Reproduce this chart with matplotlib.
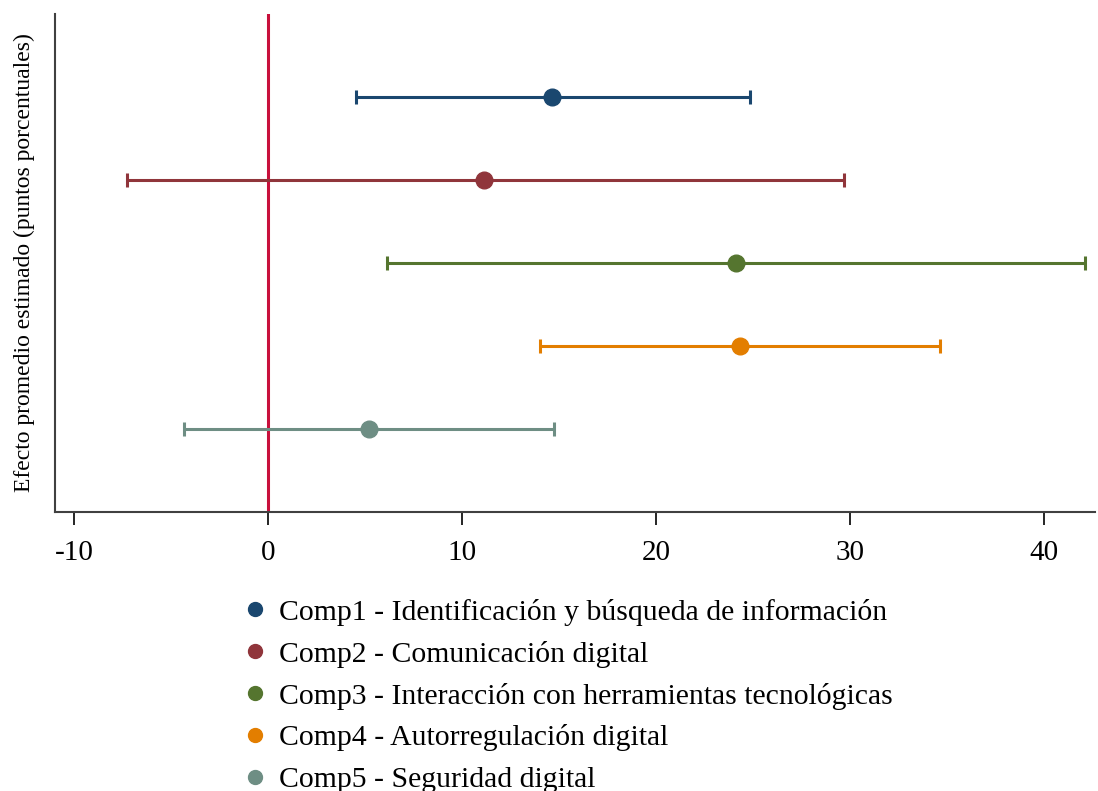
import matplotlib
matplotlib.use('Agg')
import matplotlib.pyplot as plt
from matplotlib.lines import Line2D

plt.rcParams['font.family'] = ['Liberation Serif', 'DejaVu Serif']
plt.rcParams['axes.unicode_minus'] = False

labels = ['Comp1 - Identificación y búsqueda de información',
          'Comp2 - Comunicación digital',
          'Comp3 - Interacción con herramientas tecnológicas',
          'Comp4 - Autorregulación digital',
          'Comp5 - Seguridad digital']
est = [14.65, 11.1, 24.1, 24.3, 5.2]
lo = [4.5, -7.3, 6.1, 14.0, -4.35]
hi = [24.85, 29.7, 42.1, 34.6, 14.75]
ypos = [5, 4, 3, 2, 1]
colors = ['#1a476f', '#90353b', '#55752f', '#e37e00', '#6e8e84']

fig = plt.figure(figsize=(10.98, 7.91), dpi=100)
ax = fig.add_axes([0.050, 0.353, 0.947, 0.629])

ax.axvline(0, color='#c8103c', lw=2.2, zorder=1)

for i in range(len(labels)):
    ax.errorbar(est[i], ypos[i], xerr=[[est[i] - lo[i]], [hi[i] - est[i]]],
                fmt='o', color=colors[i], ms=12, lw=2.2, capsize=5, capthick=2.2, zorder=3)

ax.set_xlim(-11, 42.6)
ax.set_ylim(0, 6)
ax.set_xticks([-10, 0, 10, 20, 30, 40])
ax.set_yticks([])
ax.tick_params(axis='x', labelsize=21, length=9, width=1.2, pad=11)
ax.spines['top'].set_visible(False)
ax.spines['right'].set_visible(False)
ax.spines['left'].set_color('#404040')
ax.spines['bottom'].set_color('#404040')
ax.spines['left'].set_linewidth(1.5)
ax.spines['bottom'].set_linewidth(1.5)
ax.set_ylabel('Efecto promedio estimado (puntos porcentuales)', fontsize=17, labelpad=14)

handles = [Line2D([], [], marker='o', ls='none', color=c, ms=10) for c in colors]
fig.legend(handles, labels, loc='upper left', bbox_to_anchor=(0.208, 0.258),
           frameon=False, fontsize=21.4, handletextpad=0.3, labelspacing=0.5,
           handlelength=1.0, borderaxespad=0)

fig.savefig('out.png', dpi=100)
